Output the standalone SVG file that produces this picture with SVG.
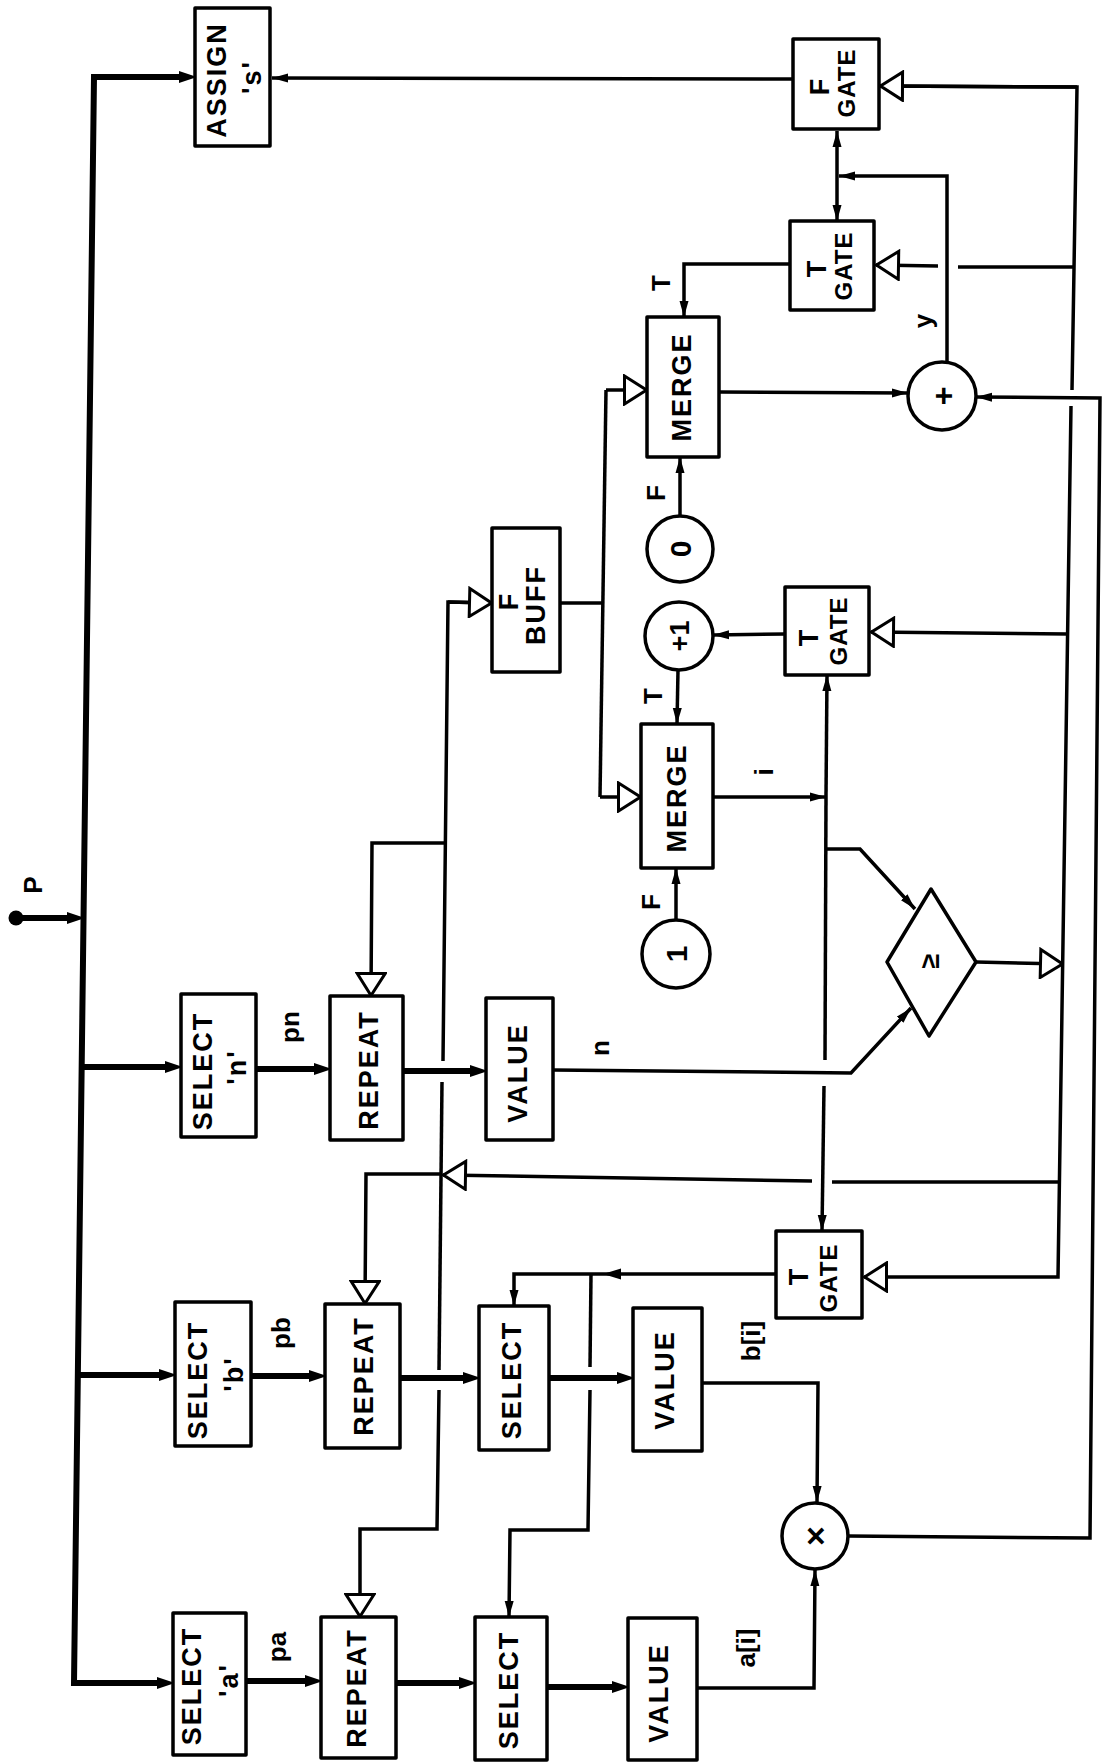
<svg xmlns="http://www.w3.org/2000/svg" width="1103" height="1763" viewBox="0 0 1103 1763">
<style>
.b{fill:#fff;stroke:#000;stroke-width:3.5;stroke-linejoin:round}
.l{fill:none;stroke:#000;stroke-width:3.5;stroke-linejoin:miter}
.k{fill:none;stroke:#000;stroke-width:6;stroke-linejoin:miter}
text{font-family:"Liberation Sans",Arial,sans-serif;font-weight:bold;font-size:27px;text-anchor:middle;letter-spacing:2px;fill:#000}
.g{font-size:24px;letter-spacing:1px}
.s{font-size:26px;letter-spacing:0}
</style>
<defs>
<marker id="ah" viewBox="0 0 16 10" markerWidth="16" markerHeight="10" refX="16" refY="5" orient="auto" markerUnits="userSpaceOnUse"><path d="M0,0.5 L16,5 L0,9.5 z"/></marker>
<marker id="ahk" viewBox="0 0 18 12" markerWidth="18" markerHeight="12" refX="8" refY="6" orient="auto-start-reverse" markerUnits="userSpaceOnUse"><path d="M0,0 L18,6 L0,12 z"/></marker>
<marker id="tri" viewBox="0 0 26 32" markerWidth="26" markerHeight="32" refX="24.5" refY="16" orient="auto" markerUnits="userSpaceOnUse"><path d="M2,2 L24,16 L2,30 z" fill="#fff" stroke="#000" stroke-width="3"/></marker>
</defs>

<g id="connectors">
<!-- main trunk -->
<circle cx="16" cy="918" r="7.5" fill="#000"/>
<path class="k" d="M16,918 L75,918" marker-end="url(#ahk)"/>
<path class="k" d="M187,77 L94,77 L74,1683 L165,1683" marker-start="url(#ahk)" marker-end="url(#ahk)"/>
<path class="k" d="M82,1067 L173,1067" marker-end="url(#ahk)"/>
<path class="k" d="M78,1375 L167,1375" marker-end="url(#ahk)"/>
<!-- thick data arrows -->
<path class="k" d="M256,1069 L322,1069" marker-end="url(#ahk)"/>
<path class="k" d="M403,1071 L478,1071" marker-end="url(#ahk)"/>
<path class="k" d="M251,1376 L317,1376" marker-end="url(#ahk)"/>
<path class="k" d="M400,1378 L471,1378" marker-end="url(#ahk)"/>
<path class="k" d="M549,1378 L625,1378" marker-end="url(#ahk)"/>
<path class="k" d="M246,1681 L313,1681" marker-end="url(#ahk)"/>
<path class="k" d="M396,1683 L467,1683" marker-end="url(#ahk)"/>
<path class="k" d="M547,1687 L620,1687" marker-end="url(#ahk)"/>
<!-- top section -->
<path class="l" d="M793,79 L272,78" marker-end="url(#ah)"/>
<path class="l" d="M947,362 L947,176 L839,176" marker-end="url(#ah)"/>
<path class="l" d="M837,176 L837,131" marker-end="url(#ah)"/>
<path class="l" d="M837,176 L837,221" marker-end="url(#ah)"/>
<path class="l" d="M790,264 L684,264 L684,317" marker-end="url(#ah)"/>
<path class="l" d="M719,392 L908,393" marker-end="url(#ah)"/>
<path class="l" d="M848,1536 L1090,1538 L1100,398 L976,397" marker-end="url(#ah)"/>
<path class="l" d="M680,516 L680,457" marker-end="url(#ah)"/>
<path class="l" d="M785,634 L713,635" marker-end="url(#ah)"/>
<path class="l" d="M678,670 L677,724" marker-end="url(#ah)"/>
<path class="l" d="M676,920 L676,868" marker-end="url(#ah)"/>
<!-- i bus -->
<path class="l" d="M713,797 L826,797" marker-end="url(#ah)"/>
<path class="l" d="M826,797 L827,675" marker-end="url(#ah)"/>
<path class="l" d="M826,797 L825,1060"/>
<path class="l" d="M824,1086 L822,1231" marker-end="url(#ah)"/>
<path class="l" d="M826,849 L860,849 L915,909" marker-end="url(#ah)"/>
<path class="l" d="M553,1070 L851,1073 L911,1008" marker-end="url(#ah)"/>
<!-- T gate (bottom) outputs -->
<path class="l" d="M776,1274 L514,1274 L514,1306" marker-end="url(#ah)"/>
<polygon points="603,1274 621,1268.5 621,1279.5" fill="#000"/>
<path class="l" d="M591,1274 L590,1367"/>
<path class="l" d="M590,1390 L588,1530 L510,1530 L509,1617" marker-end="url(#ah)"/>
<path class="l" d="M702,1383 L818,1383 L817,1502" marker-end="url(#ah)"/>
<path class="l" d="M697,1688 L814,1688 L815,1570" marker-end="url(#ah)"/>
<!-- right control bus -->
<path class="l" d="M880,86 L1077,87 L1072,390"/>
<path class="l" d="M1071,406 L1058,1277 L864,1277" marker-end="url(#tri)"/>
<path class="l" d="M1077,87 L880,86" marker-end="url(#tri)"/>
<path class="l" d="M1074,267 L958,267"/>
<path class="l" d="M938,266 L876,265" marker-end="url(#tri)"/>
<path class="l" d="M1068,634 L871,632" marker-end="url(#tri)"/>
<path class="l" d="M976,962 L1063,964" marker-end="url(#tri)"/>
<path class="l" d="M1060,1182 L832,1182"/>
<path class="l" d="M812,1181 L443,1175" marker-end="url(#tri)"/>
<!-- left control bus -->
<path class="l" d="M492,603 L448,602 L443,1061"/>
<path class="l" d="M448,602 L492,603" marker-end="url(#tri)"/>
<path class="l" d="M442,1082 L439,1370"/>
<path class="l" d="M439,1390 L437,1529 L360,1529 L360,1617" marker-end="url(#tri)"/>
<path class="l" d="M445,843 L372,843 L371,996" marker-end="url(#tri)"/>
<path class="l" d="M441,1174 L366,1174 L365,1304" marker-end="url(#tri)"/>
<!-- buff to merges -->
<path class="l" d="M560,603 L603,603"/>
<path class="l" d="M606,390 L600,797"/>
<path class="l" d="M606,390 L647,390" marker-end="url(#tri)"/>
<path class="l" d="M600,797 L641,797" marker-end="url(#tri)"/>
</g>

<g id="assign">
<rect class="b" x="195" y="8" width="75" height="138"/>
<text transform="translate(216 80) rotate(-90)" dy="0.36em">ASSIGN</text>
<text transform="translate(251 77) rotate(-90)" dy="0.36em">'s'</text>
</g>
<g id="fgate">
<rect class="b" x="793" y="39" width="86" height="90"/>
<text transform="translate(819 86) rotate(-90)" dy="0.36em">F</text>
<text class="g" transform="translate(846 83) rotate(-90)" dy="0.36em">GATE</text>
</g>
<g id="tgate1">
<rect class="b" x="790" y="221" width="84" height="89"/>
<text transform="translate(816 268) rotate(-90)" dy="0.36em">T</text>
<text class="g" transform="translate(843 266) rotate(-90)" dy="0.36em">GATE</text>
</g>
<g id="merge1">
<rect class="b" x="647" y="317" width="72" height="140"/>
<text transform="translate(681 387) rotate(-90)" dy="0.36em">MERGE</text>
</g>
<g id="plus">
<circle class="b" cx="942" cy="396" r="34"/>
<text transform="translate(942 396) rotate(-90)" dy="0.36em" style="font-size:32px;letter-spacing:0">+</text>
</g>
<g id="zero">
<circle class="b" cx="680" cy="549" r="33"/>
<text transform="translate(680 549) rotate(-90)" dy="0.36em" style="font-size:30px;letter-spacing:0">0</text>
</g>
<g id="buff">
<rect class="b" x="492" y="528" width="68" height="144"/>
<text transform="translate(508 601) rotate(-90)" dy="0.36em">F</text>
<text transform="translate(535 605) rotate(-90)" dy="0.36em">BUFF</text>
</g>
<g id="inc">
<circle class="b" cx="679" cy="636" r="34"/>
<text transform="translate(679 636) rotate(-90)" dy="0.36em" style="letter-spacing:0">+1</text>
</g>
<g id="tgate2">
<rect class="b" x="785" y="587" width="84" height="88"/>
<text transform="translate(808 637) rotate(-90)" dy="0.36em">T</text>
<text class="g" transform="translate(838 631) rotate(-90)" dy="0.36em">GATE</text>
</g>
<g id="merge2">
<rect class="b" x="641" y="724" width="72" height="144"/>
<text transform="translate(676 798) rotate(-90)" dy="0.36em">MERGE</text>
</g>
<g id="one">
<circle class="b" cx="676" cy="954" r="34"/>
<text transform="translate(676 954) rotate(-90)" dy="0.36em" style="font-size:30px;letter-spacing:0">1</text>
</g>
<g id="compare">
<polygon class="b" points="887,962 931,889 976,962 929,1036"/>
<text transform="translate(929 961) rotate(-90)" dy="0.36em" style="letter-spacing:0">≥</text>
</g>
<g id="selectN">
<rect class="b" x="181" y="994" width="75" height="143"/>
<text transform="translate(202 1071) rotate(-90)" dy="0.36em">SELECT</text>
<text transform="translate(236 1067) rotate(-90)" dy="0.36em">'n'</text>
</g>
<g id="repeatN">
<rect class="b" x="330" y="996" width="73" height="144"/>
<text transform="translate(368 1070) rotate(-90)" dy="0.36em">REPEAT</text>
</g>
<g id="valueN">
<rect class="b" x="486" y="998" width="67" height="142"/>
<text transform="translate(517 1073) rotate(-90)" dy="0.36em">VALUE</text>
</g>
<g id="tgate3">
<rect class="b" x="776" y="1231" width="86" height="87"/>
<text transform="translate(798 1276) rotate(-90)" dy="0.36em">T</text>
<text class="g" transform="translate(828 1278) rotate(-90)" dy="0.36em">GATE</text>
</g>
<g id="selectB">
<rect class="b" x="175" y="1302" width="76" height="144"/>
<text transform="translate(197 1380) rotate(-90)" dy="0.36em">SELECT</text>
<text transform="translate(233 1374) rotate(-90)" dy="0.36em">'b'</text>
</g>
<g id="repeatB">
<rect class="b" x="325" y="1304" width="75" height="144"/>
<text transform="translate(363 1376) rotate(-90)" dy="0.36em">REPEAT</text>
</g>
<g id="selB">
<rect class="b" x="479" y="1306" width="70" height="144"/>
<text transform="translate(511 1380) rotate(-90)" dy="0.36em">SELECT</text>
</g>
<g id="valueB">
<rect class="b" x="633" y="1308" width="69" height="143"/>
<text transform="translate(664 1380) rotate(-90)" dy="0.36em">VALUE</text>
</g>
<g id="mul">
<circle class="b" cx="815" cy="1536" r="33"/>
<text transform="translate(815 1536) rotate(-90)" dy="0.36em" style="font-size:34px;letter-spacing:0">×</text>
</g>
<g id="selectA">
<rect class="b" x="173" y="1613" width="73" height="142"/>
<text transform="translate(191 1686) rotate(-90)" dy="0.36em">SELECT</text>
<text transform="translate(228 1680) rotate(-90)" dy="0.36em">'a'</text>
</g>
<g id="repeatA">
<rect class="b" x="321" y="1617" width="75" height="141"/>
<text transform="translate(356 1688) rotate(-90)" dy="0.36em">REPEAT</text>
</g>
<g id="selA">
<rect class="b" x="475" y="1617" width="72" height="143"/>
<text transform="translate(508 1690) rotate(-90)" dy="0.36em">SELECT</text>
</g>
<g id="valueA">
<rect class="b" x="628" y="1618" width="69" height="142"/>
<text transform="translate(658 1693) rotate(-90)" dy="0.36em">VALUE</text>
</g>

<g id="labels">
<text class="s" transform="translate(33 885) rotate(-90)" dy="0.36em">P</text>
<text class="s" transform="translate(291 1027) rotate(-90)" dy="0.3em">pn</text>
<text class="s" transform="translate(282 1333) rotate(-90)" dy="0.3em">pb</text>
<text class="s" transform="translate(278 1647) rotate(-90)" dy="0.3em">pa</text>
<text class="s" transform="translate(601 1048) rotate(-90)" dy="0.3em">n</text>
<text class="s" transform="translate(765 772) rotate(-90)" dy="0.3em">i</text>
<text class="s" transform="translate(924 321) rotate(-90)" dy="0.3em">y</text>
<text class="s" transform="translate(661 283) rotate(-90)" dy="0.36em">T</text>
<text class="s" transform="translate(656 493) rotate(-90)" dy="0.36em">F</text>
<text class="s" transform="translate(653 696) rotate(-90)" dy="0.36em">T</text>
<text class="s" transform="translate(651 902) rotate(-90)" dy="0.36em">F</text>
<text class="s" transform="translate(751 1341) rotate(-90)" dy="0.36em">b[i]</text>
<text class="s" transform="translate(746 1648) rotate(-90)" dy="0.36em">a[i]</text>
</g>
</svg>
